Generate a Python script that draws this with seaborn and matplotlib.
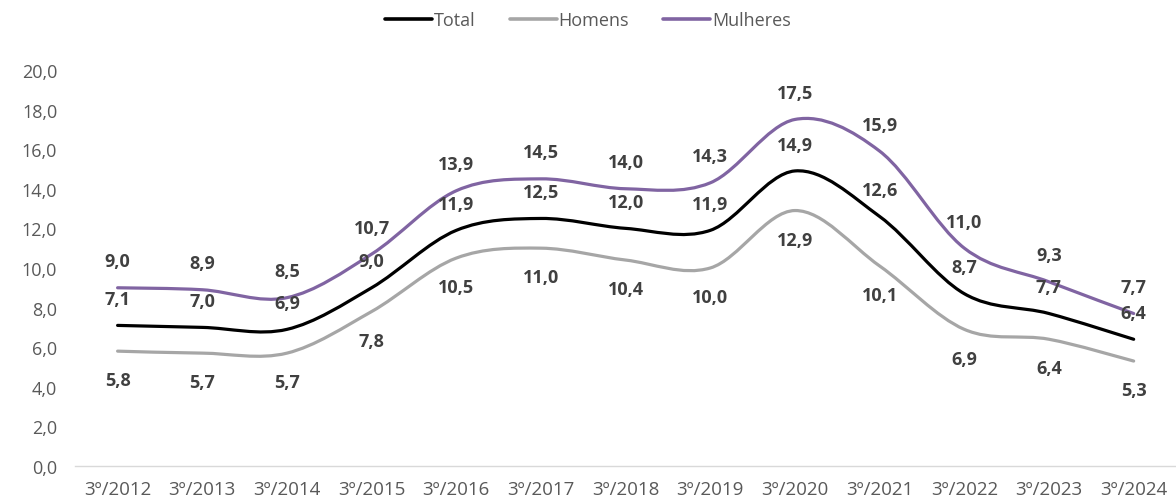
import numpy as np
import pandas as pd
import matplotlib.pyplot as plt
import seaborn as sns
from matplotlib.path import Path
from matplotlib.patches import PathPatch
from matplotlib.lines import Line2D

periodos = ["3º/2012", "3º/2013", "3º/2014", "3º/2015", "3º/2016", "3º/2017", "3º/2018",
            "3º/2019", "3º/2020", "3º/2021", "3º/2022", "3º/2023", "3º/2024"]
total = [7.1, 7.0, 6.9, 9.0, 11.9, 12.5, 12.0, 11.9, 14.9, 12.6, 8.7, 7.7, 6.4]
homens = [5.8, 5.7, 5.7, 7.8, 10.5, 11.0, 10.4, 10.0, 12.9, 10.1, 6.9, 6.4, 5.3]
mulheres = [9.0, 8.9, 8.5, 10.7, 13.9, 14.5, 14.0, 14.3, 17.5, 15.9, 11.0, 9.3, 7.7]

series = {"Total": total, "Homens": homens, "Mulheres": mulheres}
cores = {"Total": "#000000", "Homens": "#A6A6A6", "Mulheres": "#8064A2"}
# deslocamento do rótulo em pontos (acima / abaixo)
desloc = {"Total": 19, "Homens": -21, "Mulheres": 19}

df = pd.concat([pd.DataFrame({"Período": periodos, "Taxa": v, "Série": k})
                for k, v in series.items()], ignore_index=True)

sns.set_theme(style="white")
plt.rcParams["font.family"] = ["Open Sans", "DejaVu Sans"]

fig = plt.figure(figsize=(11.76, 5.02), dpi=100)
ax = fig.add_axes([0.064, 0.0697, 0.936, 0.789])

sns.lineplot(data=df, x="Período", y="Taxa", hue="Série", palette=cores,
             sort=False, linewidth=2.3, legend=False, ax=ax)


def bezier_suave(xs, ys):
    # curva suavizada no estilo Excel (Catmull-Rom -> Bezier cúbica)
    p = np.column_stack([xs, ys]).astype(float)
    n = len(p)
    verts = [p[0]]
    codes = [Path.MOVETO]
    for i in range(n - 1):
        p0 = p[i - 1] if i > 0 else p[i]
        p3 = p[i + 2] if i + 2 < n else p[i + 1]
        c1 = p[i] + (p[i + 1] - p0) / 6
        c2 = p[i + 1] - (p3 - p[i]) / 6
        verts += [c1, c2, p[i + 1]]
        codes += [Path.CURVE4] * 3
    return Path(verts, codes)


for ln in ax.lines:
    ln.set_visible(False)

x = np.arange(len(periodos))
for nome, vals in series.items():
    ax.add_patch(PathPatch(bezier_suave(x, vals), fill=False,
                           edgecolor=cores[nome], linewidth=2.3,
                           capstyle="round", joinstyle="round"))
    for xi, v in zip(x, vals):
        ax.annotate(f"{v:.1f}".replace(".", ","), (xi, v),
                    xytext=(0, desloc[nome]), textcoords="offset points",
                    ha="center", va="center", fontsize=13, fontweight="bold",
                    color="#404040")

ax.set_xlim(-0.5, len(periodos) - 0.5)
ax.set_ylim(0, 20)
ax.set_yticks(np.arange(0, 20.1, 2))
ax.set_yticklabels([f"{t:.1f}".replace(".", ",") for t in np.arange(0, 20.1, 2)])
ax.set_xlabel("")
ax.set_ylabel("")
ax.tick_params(axis="y", length=0, pad=13, labelsize=13, labelcolor="#595959")
ax.tick_params(axis="x", length=0, pad=10, labelsize=13.5, labelcolor="#595959")
for s in ["top", "right", "left"]:
    ax.spines[s].set_visible(False)
ax.spines["bottom"].set_color("#D9D9D9")
ax.spines["bottom"].set_linewidth(1)

handles = [Line2D([0], [0], color=cores[k], linewidth=2.6) for k in series]
leg = fig.legend(handles, list(series), loc="center", bbox_to_anchor=(0.5, 0.958),
                 ncol=3, frameon=False, fontsize=13, handlelength=2.6,
                 handletextpad=0.1, columnspacing=1.9)
for t in leg.get_texts():
    t.set_color("#595959")

fig.savefig("out.png", dpi=100, facecolor="white")
